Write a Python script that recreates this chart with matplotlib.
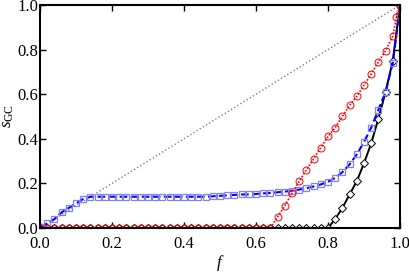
import numpy as np
import matplotlib
matplotlib.use("Agg")
import matplotlib.pyplot as plt
from matplotlib import font_manager
from matplotlib.ticker import FormatStrFormatter

# make sure a Times-like serif is used
serif_name = "DejaVu Serif"
for path in font_manager.findSystemFonts():
    if "LiberationSerif-Regular" in path:
        font_manager.fontManager.addfont(path)
        serif_name = font_manager.FontProperties(fname=path).get_name()
    elif "LiberationSerif-Italic" in path:
        font_manager.fontManager.addfont(path)

plt.rcParams["font.family"] = [serif_name, "DejaVu Serif"]
plt.rcParams["mathtext.fontset"] = "custom"
plt.rcParams["mathtext.rm"] = serif_name
plt.rcParams["mathtext.it"] = serif_name + ":italic"

# data
f_grid = [round(0.02 * i, 2) for i in range(51)]

f_black = f_grid
s_black = [0.0] * 41 + [0.04, 0.09, 0.15, 0.21, 0.29, 0.38, 0.49, 0.61, 0.75, 1.0]

f_red = f_grid[:50] + [0.99, 1.0]
s_red = [0.0] * 33 + [0.05, 0.10, 0.155, 0.21, 0.26, 0.31, 0.36, 0.41, 0.45,
                      0.50, 0.55, 0.59, 0.64, 0.69, 0.745, 0.795, 0.86, 0.945, 1.0]

f_blue = f_grid[:50] + [0.997, 1.0]
s_blue = [0.005, 0.02, 0.04, 0.07, 0.09, 0.11, 0.13, 0.14,
          0.14, 0.14, 0.14, 0.14, 0.14, 0.14, 0.14, 0.14, 0.14, 0.14,
          0.14, 0.14, 0.14, 0.14, 0.14, 0.14, 0.142, 0.144, 0.146, 0.148,
          0.15, 0.15, 0.152, 0.155, 0.157, 0.16, 0.163, 0.167, 0.172, 0.178,
          0.186, 0.195, 0.207, 0.225, 0.25, 0.285, 0.33, 0.385, 0.45, 0.53,
          0.61, 0.74, 0.955, 1.0]

fig = plt.figure(figsize=(4.09, 2.72), dpi=100)
ax = fig.add_axes([0.098, 0.162, 0.88, 0.82])

ax.plot([0, 1], [0, 1], color="gray", ls=":", lw=1)
ax.plot(f_black, s_black, color="black", lw=1.4, marker="D", ms=4.2,
        mfc="white", mec="black", mew=0.7)
ax.plot(f_blue, s_blue, color="blue", lw=1.5, ls="--", marker="s", ms=5,
        mfc="none", mec="#8080ff", mew=0.9)
ax.plot(f_red, s_red, color="red", lw=1.2, ls=(0, (1, 1)), marker="o", ms=5,
        mfc="none", mec="red", mew=0.7)

ax.set_xlim(0, 1)
ax.set_ylim(0, 1)
ax.set_xticks([0, 0.2, 0.4, 0.6, 0.8, 1.0])
ax.set_yticks([0, 0.2, 0.4, 0.6, 0.8, 1.0])
ax.xaxis.set_major_formatter(FormatStrFormatter("%.1f"))
ax.yaxis.set_major_formatter(FormatStrFormatter("%.1f"))
ax.tick_params(direction="in", length=4, width=1, top=True, right=True,
               labelsize=12)
ax.tick_params(axis="x", pad=5.5)
ax.tick_params(axis="y", pad=1.5)
for sp in ax.spines.values():
    sp.set_linewidth(1.5)

ax.set_xlabel(r"$f$", fontsize=12, labelpad=1)
ax.set_ylabel(r"$s_{\rm GC}$", fontsize=12, labelpad=1)

fig.savefig("out.png", dpi=100)
